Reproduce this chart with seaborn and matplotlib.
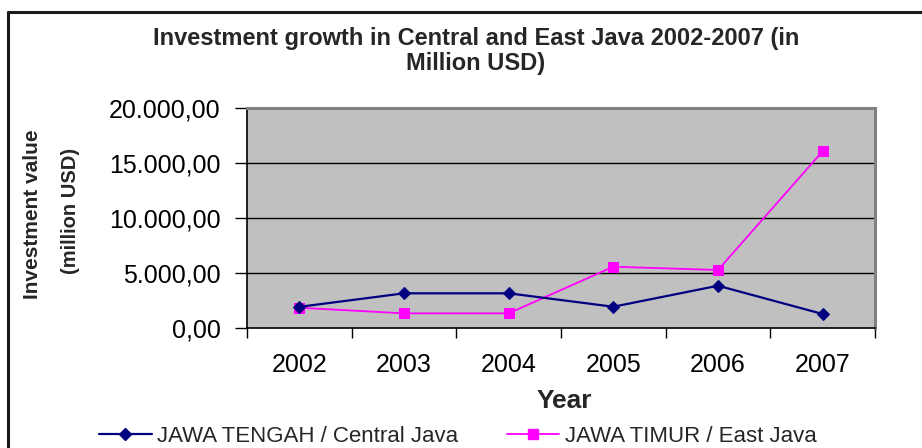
import matplotlib
matplotlib.use("Agg")
import matplotlib.pyplot as plt
from matplotlib.lines import Line2D
from matplotlib.ticker import FixedLocator, FuncFormatter, NullFormatter
import numpy as np
import pandas as pd
import seaborn as sns

# Investment values (million USD) per year
years = ["2002", "2003", "2004", "2005", "2006", "2007"]
central_java = [1950, 3180, 3180, 1960, 3870, 1300]
east_java = [1870, 1360, 1360, 5600, 5300, 16100]
series_names = ["JAWA TENGAH / Central Java", "JAWA TIMUR / East Java"]
y_ticks = [0, 5000, 10000, 15000, 20000]

sns.set_theme(style="white")
plt.rcParams["font.family"] = ["Liberation Sans", "DejaVu Sans"]

positions = np.arange(len(years))
df = pd.DataFrame({
    "pos": np.concatenate([positions, positions]),
    "value": central_java + east_java,
    "region": [series_names[0]] * len(years) + [series_names[1]] * len(years),
})

fig = plt.figure(figsize=(9.22, 4.48), dpi=100)
ax = fig.add_axes([247 / 922, 1 - 328.3 / 448, (875 - 247) / 922, (328.3 - 108.3) / 448])
ax.set_facecolor("#C0C0C0")

palette = {series_names[0]: "#000080", series_names[1]: "#FF00FF"}
markers = {series_names[0]: "D", series_names[1]: "s"}

for name, lw, ms in [(series_names[0], 1.6, 6.5), (series_names[1], 1.3, 7.5)]:
    sub = df[df["region"] == name]
    sns.lineplot(data=sub, x="pos", y="value", color=palette[name], marker=markers[name],
                 markersize=ms, markeredgecolor=palette[name], linewidth=lw, ax=ax,
                 legend=False, zorder=3 if name == series_names[1] else 4)

ax.set_xlim(-0.5, len(years) - 0.5)
ax.set_ylim(0, 20000)

# horizontal grid
for v in y_ticks[1:-1]:
    ax.axhline(v, color="#000000", linewidth=1.0, zorder=1)

# frame of the plot area
ax.spines["left"].set_color("#000000")
ax.spines["bottom"].set_color("#000000")
ax.spines["left"].set_linewidth(1.2)
ax.spines["bottom"].set_linewidth(1.2)
ax.spines["top"].set_color("#808080")
ax.spines["right"].set_color("#808080")
ax.spines["top"].set_linewidth(2.2)
ax.spines["right"].set_linewidth(2.2)

# y axis ticks and labels
ax.yaxis.set_major_locator(FixedLocator(y_ticks))
ax.yaxis.set_major_formatter(FuncFormatter(
    lambda v, p: f"{v:,.2f}".replace(",", "X").replace(".", ",").replace("X", ".")))
ax.tick_params(axis="y", which="major", left=True, length=9, width=1, color="#000000",
               direction="out", pad=10, labelsize=18, labelcolor="#000000")

# x axis: ticks between categories, labels at category centres
ax.xaxis.set_major_locator(FixedLocator(np.arange(-0.5, len(years), 1.0)))
ax.xaxis.set_major_formatter(NullFormatter())
ax.xaxis.set_minor_locator(FixedLocator(positions))
ax.xaxis.set_minor_formatter(FuncFormatter(lambda v, p: years[int(round(v))]))
ax.tick_params(axis="x", which="major", bottom=True, length=7, width=1, color="#000000",
               direction="out")
ax.tick_params(axis="x", which="minor", bottom=True, length=0, pad=18, labelsize=18,
               labelcolor="#000000")
ax.set_xlabel("")
ax.set_ylabel("")

# titles
fig.text(476 / 922, 1 - 51 / 448, "Investment growth in Central and East Java 2002-2007 (in\nMillion USD)",
         ha="center", va="center", fontsize=17, fontweight="bold", linespacing=1.08)
fig.text(32 / 922, 1 - 214 / 448, "Investment value", rotation=90, ha="center", va="center",
         fontsize=15, fontweight="bold")
fig.text(70 / 922, 1 - 211 / 448, "(million USD)", rotation=90, ha="center", va="center",
         fontsize=14.5, fontweight="bold")
fig.text(564 / 922, 1 - 401 / 448, "Year", ha="center", va="center", fontsize=19,
         fontweight="bold")

# legend
handles = [
    Line2D([], [], color="#000080", marker="D", markersize=6.5, linewidth=1.6),
    Line2D([], [], color="#FF00FF", marker="s", markersize=7.5, linewidth=1.3),
]
fig.legend(handles, series_names, loc="center", bbox_to_anchor=(458 / 922, 1 - 436 / 448),
           ncol=2, frameon=False, fontsize=16, handlelength=2.35, handletextpad=0.25,
           columnspacing=2.2, borderpad=0, borderaxespad=0)

# outer chart border (left and top edges)
fig.add_artist(Line2D([8 / 922, 8 / 922], [0, 1 - 12 / 448], transform=fig.transFigure,
                      color="#1a1a1a", linewidth=2.2))
fig.add_artist(Line2D([8 / 922, 1], [1 - 12 / 448, 1 - 12 / 448], transform=fig.transFigure,
                      color="#1a1a1a", linewidth=2.2))

fig.savefig("out.png", dpi=100, facecolor="white")
